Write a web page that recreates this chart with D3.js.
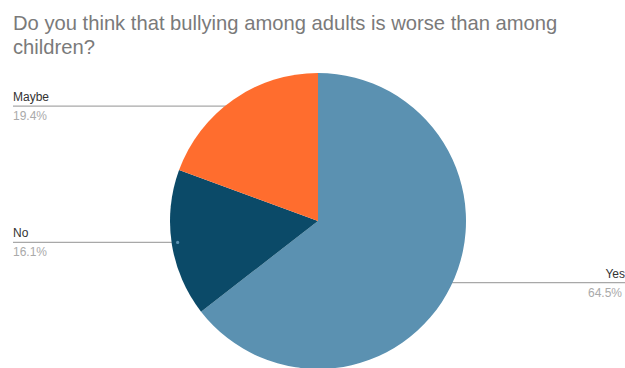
<!DOCTYPE html>
<html>
<head>
<meta charset="utf-8">
<script src="https://cdn.jsdelivr.net/npm/d3@7"></script>
<style>
  body { margin: 0; background: #fff; }
  svg { display: block; font-family: "Liberation Sans", Arial, sans-serif; }
</style>
</head>
<body>
<div class="chart"></div>
<script>
const titleLines = ['Do you think that bullying among adults is worse than among', 'children?'];
const answers = ['Yes', 'No', 'Maybe'];
const shares = [64.5, 16.1, 19.4];
const colors = ['#5b91b1', '#0b4a68', '#ff6d2e'];

const width = 625;
const height = 368;
const cx = 318, cy = 221, radius = 148;

const svg = d3.select('.chart').append('svg')
  .attr('width', width)
  .attr('height', height);

// title
svg.append('g').selectAll('text')
  .data(titleLines)
  .enter()
  .append('text')
  .attr('x', 13)
  .attr('y', (d, i) => 30 + i * 24)
  .attr('font-size', 20.2)
  .attr('fill', '#7a7a7a')
  .text(d => d);

const data = answers.map((a, i) => ({name: a, value: shares[i], color: colors[i]}));

const pie = d3.pie().sort(null).value(d => d.value);
const arcs = pie(data);
const arc = d3.arc().innerRadius(0).outerRadius(radius);
const anchorArc = d3.arc().innerRadius(radius - 8).outerRadius(radius - 8);

const g = svg.append('g').attr('transform', `translate(${cx},${cy})`);

// leader lines sit under the pie
const labels = g.selectAll('.lbl')
  .data(arcs)
  .enter()
  .append('g')
  .attr('class', 'lbl');

labels.each(function(d) {
  const [ax, ay] = anchorArc.centroid(d);
  const right = ax > 0;
  const x2 = right ? width - cx : 13 - cx;
  const sel = d3.select(this);
  sel.append('line')
    .attr('x1', ax).attr('y1', ay)
    .attr('x2', x2).attr('y2', ay)
    .attr('stroke', '#a8a8a8')
    .attr('stroke-width', 1.3);
  sel.append('text')
    .attr('x', x2)
    .attr('y', ay - 5)
    .attr('text-anchor', right ? 'end' : 'start')
    .attr('font-size', 12)
    .attr('fill', '#333')
    .text(d.data.name);
  sel.append('text')
    .attr('x', right ? x2 - 3 : x2)
    .attr('y', ay + 14)
    .attr('text-anchor', right ? 'end' : 'start')
    .attr('font-size', 12)
    .attr('fill', '#aaa')
    .text(d3.format('.1f')(d.data.value) + '%');
});

g.selectAll('path')
  .data(arcs)
  .enter()
  .append('path')
  .attr('d', arc)
  .attr('fill', d => d.data.color);

// anchor dot only shows up on the dark slice
g.selectAll('circle')
  .data(arcs.filter(d => d3.hsl(d.data.color).l < 0.3))
  .enter()
  .append('circle')
  .attr('cx', d => anchorArc.centroid(d)[0] - 2)
  .attr('cy', d => anchorArc.centroid(d)[1])
  .attr('r', 1.6)
  .attr('fill', colors[0]);
</script>
</body>
</html>
